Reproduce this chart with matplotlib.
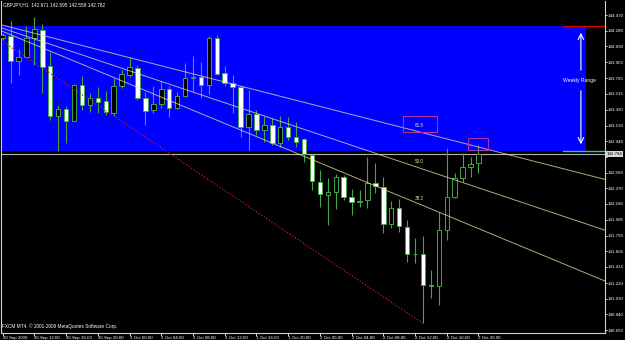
import matplotlib
matplotlib.use('Agg')
import matplotlib.pyplot as plt
from matplotlib.patches import Rectangle
from matplotlib.transforms import blended_transform_factory

plt.rcParams['font.family'] = ['Liberation Sans', 'DejaVu Sans']

# GBPJPY H1 bars, 30 Sep 08:00 .. 2 Oct 20:00
opens = [144.188, 144.219, 143.916, 143.964, 144.188, 144.288, 143.852, 143.249, 143.334, 143.188,
         143.618, 143.382, 143.464, 143.427, 143.285, 143.609, 143.739, 143.831, 143.467, 143.314,
         143.391, 143.576, 143.339, 143.488, 143.710, 143.722, 143.618, 144.188, 143.763, 143.642,
         143.601, 143.108, 143.270, 143.076, 143.136, 142.922, 143.108, 142.987, 142.966, 142.772,
         142.448, 142.287, 142.327, 142.509, 142.259, 142.199, 142.227, 142.429, 142.388, 141.932,
         142.126, 141.903, 141.570, 141.568, 141.196, 141.184, 141.863, 142.259, 142.490, 142.623,
         142.672]
highs = [144.252, 144.397, 144.058, 144.337, 144.442, 144.361, 144.025, 143.379, 143.367, 143.633,
         143.730, 143.524, 143.597, 143.552, 143.706, 143.803, 143.964, 143.864, 143.540, 143.609,
         143.670, 143.609, 143.540, 143.892, 143.973, 143.897, 144.215, 144.228, 143.852, 143.742,
         143.609, 143.561, 143.318, 143.245, 143.217, 143.245, 143.237, 143.176, 142.978, 142.784,
         142.590, 142.490, 142.542, 142.530, 142.356, 142.348, 142.752, 142.672, 142.509, 142.218,
         142.235, 141.984, 141.762, 141.790, 141.378, 142.085, 142.854, 142.554, 142.793, 142.752,
         142.894]
lows = [144.167, 143.649, 143.742, 143.960, 143.864, 143.521, 143.197, 142.825, 142.914, 143.185,
        143.318, 143.297, 143.285, 143.254, 143.245, 143.585, 143.722, 143.439, 143.136, 143.285,
        143.339, 143.230, 143.327, 143.472, 143.540, 143.460, 143.512, 143.742, 143.609, 143.278,
        142.994, 142.833, 143.015, 142.934, 142.894, 142.873, 142.954, 142.866, 142.691, 142.348,
        142.145, 141.923, 142.117, 142.227, 142.045, 142.145, 142.126, 142.308, 141.830, 141.883,
        141.842, 141.478, 141.459, 140.731, 141.035, 140.953, 141.742, 142.251, 142.448, 142.509,
        142.558]
closes = [144.228, 143.916, 143.964, 144.195, 144.300, 143.843, 143.245, 143.330, 143.188, 143.618,
          143.379, 143.467, 143.419, 143.297, 143.609, 143.751, 143.836, 143.467, 143.310, 143.387,
          143.576, 143.346, 143.488, 143.710, 143.722, 143.618, 144.188, 143.755, 143.642, 143.597,
          143.108, 143.270, 143.076, 143.136, 142.922, 143.108, 142.994, 142.934, 142.784, 142.461,
          142.296, 142.327, 142.509, 142.259, 142.199, 142.218, 142.429, 142.396, 141.932, 142.126,
          141.911, 141.572, 141.566, 141.196, 141.184, 141.863, 142.259, 142.490, 142.630, 142.663,
          142.784]

time_ticks = [0, 4, 8, 12, 16, 20, 24, 28, 32, 36, 40, 44, 48, 52, 56, 60]
time_labels = ['30 Sep 2009', '30 Sep 12:00', '30 Sep 16:00', '30 Sep 20:00',
               '1 Oct 00:00', '1 Oct 04:00', '1 Oct 08:00', '1 Oct 12:00',
               '1 Oct 16:00', '1 Oct 20:00', '2 Oct 00:00', '2 Oct 04:00',
               '2 Oct 08:00', '2 Oct 12:00', '2 Oct 16:00', '2 Oct 20:00']
price_ticks = [144.470, 144.280, 144.090, 143.900, 143.705, 143.515, 143.320, 143.130,
               142.940, 142.750, 142.560, 142.370, 142.180, 141.985, 141.795, 141.605,
               141.415, 141.220, 141.030, 140.840, 140.650]

# weekly range box and fibo fan anchors
week_high = 144.331
week_low = 142.825
fan_start = (-5, 144.470)
fan_end = (53, 140.731)
fan_levels = [0.618, 0.5, 0.382]
fan_names = ['61.8', '50.0', '38.2']
bid = 142.784
header = 'GBPJPY,H1  142.671 142.895 142.559 142.782'

green = '#44a644'
fan_col = '#e6e6a0'

fig = plt.figure(figsize=(6.25, 3.4), dpi=100)
fig.patch.set_facecolor('black')
ax = fig.add_axes([1 / 625, 7 / 340, 604 / 625, 332 / 340])
ax.set_facecolor('black')
ax.set_xlim(-0.214, 75.96)
ax.set_ylim(140.614, 144.640)

# weekly range rectangle
ax.add_patch(Rectangle((-2, week_low), 75.56, week_high - week_low,
                       facecolor='#0000ff', edgecolor='none', zorder=1))
ax.plot([70.7, 76], [week_high, week_high], color='#e00000', lw=1.0, zorder=2)
ax.plot([70.7, 76], [week_low - 0.006, week_low - 0.006], color='#30c0c0', lw=1.0, zorder=2)

# arrow + label
ax.annotate('', xy=(72.92, 144.288), xytext=(72.92, 143.767),
            arrowprops=dict(arrowstyle='->', color='white', lw=0.8))
ax.annotate('', xy=(72.92, 142.869), xytext=(72.92, 143.585),
            arrowprops=dict(arrowstyle='->', color='white', lw=0.8))
ax.text(72.7, 143.676, 'Weekly Range', color='white', fontsize=3.6, ha='center', va='center')

# bid line
ax.axhline(bid, color='#b4b4b4', lw=0.8, zorder=2)

# candles
for i in range(len(opens)):
    o, h, l, c = opens[i], highs[i], lows[i], closes[i]
    ax.vlines(i, l, h, color=green, lw=0.8, zorder=3)
    face = 'black' if c >= o else 'white'
    bottom = min(o, c)
    height = max(abs(c - o), 0.006)
    ax.add_patch(Rectangle((i - 0.28, bottom), 0.56, height, facecolor=face,
                           edgecolor=green, lw=0.7, zorder=4))

# fibo fan
x1, y1 = fan_start
x2, y2 = fan_end
ax.plot([x1, x2], [y1, y2], color='#c02020', lw=0.9, ls=(0, (1, 1.5)), zorder=5)
for lev, name in zip(fan_levels, fan_names):
    yl = y2 + (y1 - y2) * lev
    slope = (yl - y1) / (x2 - x1)
    ax.plot([x1, 76], [y1, y1 + slope * (76 - x1)], color=fan_col, lw=0.7, alpha=0.75, zorder=5)
    ax.text(52.5, yl + 0.088, name, color=fan_col, fontsize=3.3, ha='center', va='center', zorder=6)

# user rectangles
ax.add_patch(Rectangle((50.48, 143.051), 4.29, 0.194, facecolor='none',
                       edgecolor='#b030b0', lw=0.8, zorder=6))
ax.add_patch(Rectangle((58.7, 142.833), 2.5, 0.145, facecolor='none',
                       edgecolor='#b030b0', lw=0.8, zorder=6))

# axes styling
for side in ['left', 'bottom', 'right']:
    ax.spines[side].set_color('#d0d0d0')
    ax.spines[side].set_linewidth(0.8)
ax.spines['top'].set_visible(False)

# price scale (the 142.750 label sits under the bid marker)
ax.yaxis.tick_right()
ax.set_yticks(price_ticks)
ax.set_yticklabels(['' if abs(p - bid) < 0.05 else '%.3f' % p for p in price_ticks])
ax.tick_params(axis='y', colors='white', labelsize=3.2, length=1.2, width=0.6, pad=0.6)
ax.set_xticks(time_ticks)
ax.set_xticklabels(time_labels, ha='left')
ax.tick_params(axis='x', colors='white', labelsize=3.2, length=2, width=0.6, pad=0.5)

# current price marker on scale
trans = blended_transform_factory(ax.transAxes, ax.transData)
ax.text(1.003, bid, '%.3f' % bid, transform=trans, color='black', fontsize=3.2,
        ha='left', va='center', clip_on=False, zorder=10,
        bbox=dict(boxstyle='square,pad=0.15', facecolor='#d8d8d8', edgecolor='none'))

ax.text(0.0, 144.591, header, color='white', fontsize=3.4, ha='left', va='center')
ax.text(-0.1, 140.699, 'FXCM MT4, \u00a9 2001-2009 MetaQuotes Software Corp.',
        color='white', fontsize=3.4, ha='left', va='center')

fig.savefig('out.png', dpi=100, facecolor='black')
